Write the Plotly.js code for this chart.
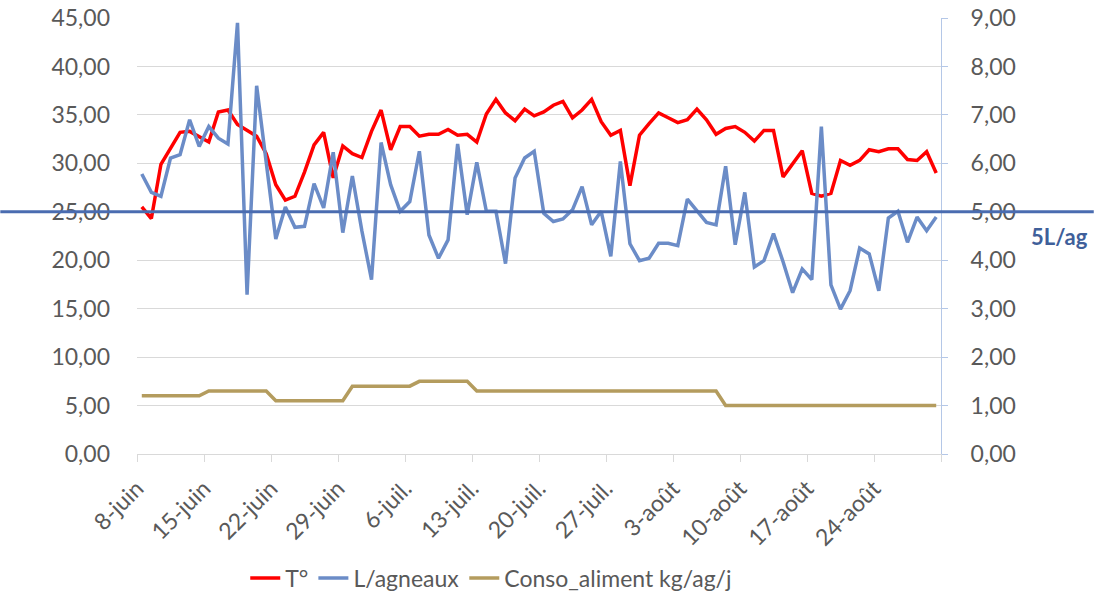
<!DOCTYPE html>
<html>
<head>
<meta charset="utf-8">
<script src="https://cdn.plot.ly/plotly-3.0.1.min.js"></script>
<style>
  html, body { margin: 0; padding: 0; background: #ffffff; }
  #graphDiv { width: 1099px; height: 594px; }
</style>
</head>
<body>
<div id="graphDiv"></div>
<script>
// first day of the series, one value per day up to 30 August
const startDate = '2020-06-08';
const nbDays = 84;

// temperature (left axis)
const temperature = [
  25.5, 24.3, 29.9, 31.6, 33.2, 33.3, 32.8, 32.2, 35.3, 35.5,
  34.0, 33.4, 32.8, 31.0, 27.8, 26.2, 26.6, 29.1, 31.9, 33.2,
  28.5, 31.8, 31.0, 30.6, 33.3, 35.5, 31.4, 33.8, 33.8, 32.8,
  33.0, 33.0, 33.5, 32.9, 33.0, 32.2, 35.1, 36.6, 35.2, 34.4,
  35.6, 34.9, 35.3, 36.0, 36.4, 34.7, 35.5, 36.6, 34.3, 32.9,
  33.4, 27.7, 32.9, 34.1, 35.2, 34.7, 34.2, 34.5, 35.6, 34.5,
  33.0, 33.6, 33.8, 33.2, 32.3, 33.4, 33.4, 28.6, 29.9, 31.3,
  26.9, 26.6, 26.9, 30.3, 29.8, 30.3, 31.4, 31.2, 31.5, 31.5,
  30.4, 30.3, 31.2, 29.0
];

// litres per lamb (right axis)
const litresAgneau = [
  5.78, 5.40, 5.32, 6.11, 6.18, 6.90, 6.35, 6.76, 6.52, 6.40,
  8.90, 3.29, 7.60, 5.95, 4.44, 5.10, 4.68, 4.70, 5.58, 5.08,
  6.23, 4.57, 5.74, 4.60, 3.60, 6.43, 5.56, 5.01, 5.21, 6.25,
  4.52, 4.04, 4.42, 6.40, 4.94, 6.02, 5.01, 5.01, 3.93, 5.70,
  6.11, 6.25, 4.97, 4.80, 4.85, 5.04, 5.52, 4.73, 5.01, 4.08,
  6.04, 4.34, 3.99, 4.04, 4.35, 4.35, 4.30, 5.26, 5.01, 4.78,
  4.73, 5.94, 4.32, 5.40, 3.86, 3.99, 4.55, 3.97, 3.33, 3.82,
  3.60, 6.76, 3.49, 2.99, 3.37, 4.25, 4.13, 3.37, 4.87, 5.01,
  4.37, 4.89, 4.61, 4.89
];

// feed consumption kg/lamb/day (right axis)
const consoAliment = [
  1.2, 1.2, 1.2, 1.2, 1.2, 1.2, 1.2,
  1.3, 1.3, 1.3, 1.3, 1.3, 1.3, 1.3,
  1.1, 1.1, 1.1, 1.1, 1.1, 1.1, 1.1, 1.1,
  1.4, 1.4, 1.4, 1.4, 1.4, 1.4, 1.4,
  1.5, 1.5, 1.5, 1.5, 1.5, 1.5,
  1.3, 1.3, 1.3, 1.3, 1.3, 1.3, 1.3, 1.3, 1.3, 1.3,
  1.3, 1.3, 1.3, 1.3, 1.3, 1.3, 1.3, 1.3, 1.3, 1.3,
  1.3, 1.3, 1.3, 1.3, 1.3, 1.3,
  1.0, 1.0, 1.0, 1.0, 1.0, 1.0, 1.0, 1.0, 1.0, 1.0,
  1.0, 1.0, 1.0, 1.0, 1.0, 1.0, 1.0, 1.0, 1.0, 1.0,
  1.0, 1.0, 1.0
];

// weekly tick labels (the last tick closes the axis, no label)
const tickDates = [
  '2020-06-07 12:00', '2020-06-14 12:00', '2020-06-21 12:00', '2020-06-28 12:00',
  '2020-07-05 12:00', '2020-07-12 12:00', '2020-07-19 12:00', '2020-07-26 12:00',
  '2020-08-02 12:00', '2020-08-09 12:00', '2020-08-16 12:00', '2020-08-23 12:00',
  '2020-08-30 12:00'
];
const tickLabels = [
  '8-juin', '15-juin', '22-juin', '29-juin', '6-juil.', '13-juil.',
  '20-juil.', '27-juil.', '3-août', '10-août', '17-août', '24-août', ''
];

// target line
const seuil = 5;
const seuilLabel = '5L/ag';

// build the day list
const days = [];
for (let i = 0; i < nbDays; i++) {
  const d = new Date(startDate + 'T00:00:00Z');
  d.setUTCDate(d.getUTCDate() + i);
  days.push(d.toISOString().slice(0, 10));
}

const font = 'Lato, "Liberation Sans", sans-serif';
const grey = '#595959';

const data = [
  {
    x: days, y: temperature, name: 'T°', mode: 'lines', yaxis: 'y',
    line: { color: '#ff0000', width: 3.5 }
  },
  {
    x: days, y: litresAgneau, name: 'L/agneaux', mode: 'lines', yaxis: 'y2',
    line: { color: '#6b8cc7', width: 3.5 }
  },
  {
    x: days, y: consoAliment, name: 'Conso_aliment kg/ag/j', mode: 'lines', yaxis: 'y2',
    line: { color: '#b49c5e', width: 3.5 }
  }
];

const layout = {
  width: 1099,
  height: 594,
  margin: { l: 137, r: 158, t: 18, b: 140 },
  paper_bgcolor: '#ffffff',
  plot_bgcolor: '#ffffff',
  separators: ', ',
  font: { family: font, size: 23, color: grey },
  showlegend: true,
  legend: {
    orientation: 'h',
    xref: 'container', yref: 'container',
    x: 0.447, xanchor: 'center',
    y: 0.027, yanchor: 'middle',
    font: { family: font, size: 23, color: grey },
    traceorder: 'normal',
    itemwidth: 30
  },
  xaxis: {
    type: 'date',
    automargin: false,
    range: ['2020-06-07 12:00', '2020-08-30 12:00'],
    tickmode: 'array',
    tickvals: tickDates,
    ticktext: tickLabels,
    tickangle: -45,
    ticks: 'outside',
    ticklen: 7,
    tickcolor: '#d9d9d9',
    showline: true,
    linecolor: '#d9d9d9',
    linewidth: 1,
    showgrid: false,
    zeroline: false,
    ticklabelstandoff: 4,
    tickfont: { family: font, size: 23, color: grey }
  },
  yaxis: {
    automargin: false,
    range: [0, 45],
    dtick: 5,
    tickformat: '.2f',
    showgrid: true,
    gridcolor: '#d9d9d9',
    gridwidth: 1,
    zeroline: false,
    showline: false,
    ticks: '',
    ticklabelstandoff: 26,
    tickfont: { family: font, size: 23, color: grey }
  },
  yaxis2: {
    automargin: false,
    range: [0, 9],
    dtick: 1,
    tickformat: '.2f',
    overlaying: 'y',
    side: 'right',
    showgrid: false,
    zeroline: false,
    showline: true,
    linecolor: '#b4c7e7',
    ticks: 'outside',
    ticklen: 6,
    tickcolor: '#b4c7e7',
    ticklabelstandoff: 18,
    tickfont: { family: font, size: 23, color: grey }
  },
  shapes: [
    {
      type: 'line', layer: 'above',
      xref: 'paper', yref: 'y2',
      x0: -0.17, x1: 1.19, y0: seuil, y1: seuil,
      line: { color: '#4a6cb0', width: 3 }
    }
  ],
  annotations: [
    {
      xref: 'paper', yref: 'y2',
      x: 1.148, y: 4.48,
      xanchor: 'center', yanchor: 'middle',
      text: '<b>' + seuilLabel + '</b>',
      showarrow: false,
      font: { family: font, size: 22, color: '#3f5f9a' }
    }
  ]
};

Plotly.newPlot('graphDiv', data, layout, { displayModeBar: false, staticPlot: true });
</script>
</body>
</html>
